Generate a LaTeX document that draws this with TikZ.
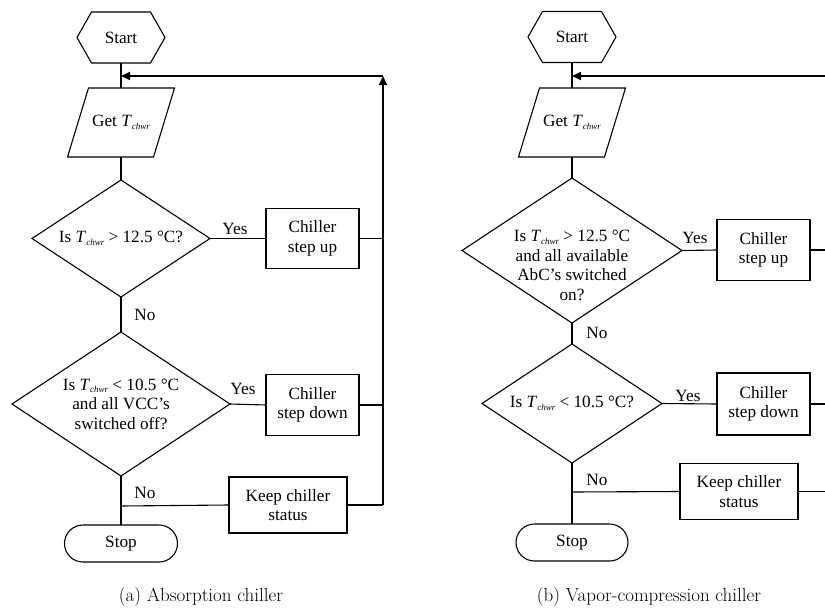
\documentclass[tikz,border=0pt]{standalone}
\usepackage{fontspec}
\setmainfont{Liberation Serif}
\newfontfamily\capfam{Latin Modern Roman}
\usetikzlibrary{arrows.meta}
\newcommand\nf{\fontsize{17.2}{19.5}\selectfont}
\newcommand\Tc{\textit{T}{\fontsize{9}{10}\selectfont\raisebox{-2.5pt}{\textit{chwr}}}}
\newcommand\hexa[1]{\draw[ln] (#1.west) -- ([xshift=14.5pt]#1.north west) -- ([xshift=-14.5pt]#1.north east) -- (#1.east) -- ([xshift=-14.5pt]#1.south east) -- ([xshift=14.5pt]#1.south west) -- cycle;}
\newcommand\para[1]{\draw[ln] ([xshift=21pt]#1.north west) -- (#1.north east) -- ([xshift=-21pt]#1.south east) -- (#1.south west) -- cycle;}
\newcommand\diam[1]{\draw[ln] (#1.north) -- (#1.east) -- (#1.south) -- (#1.west) -- cycle;}
\begin{document}
\begin{tikzpicture}[x=1pt,y=-1pt,
  ln/.style={line width=1.1pt, black},
  fb/.style={line width=1.7pt, black},
  arr/.style={-{Triangle[length=9pt,width=8pt]}},
  txt/.style={font=\nf, align=center, inner sep=0pt, outer sep=0pt},
  term/.style={txt, minimum width=88pt, minimum height=51pt},
  io/.style={txt, minimum width=107pt, minimum height=69pt},
  dec/.style={txt},
  boxnode/.style={txt, draw, line width=1.1pt, minimum width=93pt, minimum height=61pt},
  keepnode/.style={boxnode, minimum width=118pt, minimum height=56pt},
  stopnode/.style={txt, draw, line width=1.1pt, rounded corners=18.5pt, minimum width=113pt, minimum height=37pt},
  lbl/.style={font=\nf, inner sep=0pt},
  captext/.style={font=\capfam\fontsize{19}{22}\selectfont, inner sep=0pt}
]
\useasboundingbox (0,0) rectangle (825,608);

% ---------------- (a) ----------------
\node[term] (s1) at (121,37.5) {Start};
\hexa{s1}
\node[io] (g1) at (121,122.5) {Get \Tc};
\para{g1}
\node[dec, minimum width=178pt, minimum height=117pt] (d11) at (121,238.5) {Is \Tc{} {>} 12.5 °C?};
\diam{d11}
\node[dec, minimum width=218pt, minimum height=144pt] (d12) at (121,404) {Is \Tc{} {<} 10.5 °C\\and all VCC’s\\switched off?};
\diam{d12}
\node[stopnode] (st1) at (121,543.5) {Stop};
\node[boxnode, minimum height=60pt] (u1) at (312.5,238.5) {Chiller\\step up};
\node[boxnode] (dn1) at (312.5,405) {Chiller\\step down};
\node[keepnode] (k1) at (288,505) {Keep chiller\\status};

\coordinate (jA1) at (121,76);
\coordinate (jB1) at (121,506);
\coordinate (fT1) at (383,76);

\draw[ln] (s1.south) -- (g1.north);
\draw[ln] (g1.south) -- (d11.north);
\draw[ln] (d11.south) -- (d12.north);
\draw[ln] (d12.south) -- (st1.north);
\draw[ln] (d11.east) -- (u1.west);
\draw[ln] (d12.east) -- (dn1.west);
\draw[ln] (jB1) -- (k1.west);
\draw[ln] (u1.east) -- (u1.east -| fT1);
\draw[ln] (dn1.east) -- (dn1.east -| fT1);
\draw[ln] (k1.east) -- (k1.east -| fT1);
\draw[fb,arr] (k1.east -| fT1) -- (fT1);
\draw[fb,arr] (fT1) -- (jA1);

\node[lbl] (y11) at (235,229) {Yes};
\node[lbl] (y12) at (243,389) {Yes};
\node[lbl] (n11) at (145,315) {No};
\node[lbl] (n12) at (145,493) {No};

\node[captext] (ca) at (201,597) {(a) Absorption chiller};

% ---------------- (b) ----------------
\node[term] (s2) at (572,37) {Start};
\hexa{s2}
\node[io] (g2) at (572,122.5) {Get \Tc};
\para{g2}
\node[dec, minimum width=220pt, minimum height=145pt,
  label={[txt, yshift=-15pt]center:{Is \Tc{} {>} 12.5 °C\\and all available\\AbC’s switched\\on?}}] (d21) at (572,250.5) {};
\diam{d21}
\node[dec, minimum width=180pt, minimum height=119pt] (d22) at (572,403.5) {Is \Tc{} {<} 10.5 °C?};
\diam{d22}
\node[stopnode, minimum width=112pt] (st2) at (572,542.5) {Stop};
\node[boxnode] (u2) at (763.5,250) {Chiller\\step up};
\node[boxnode, minimum height=62pt] (dn2) at (763.5,404) {Chiller\\step down};
\node[keepnode] (k2) at (739,491.5) {Keep chiller\\status};

\coordinate (jA2) at (572,76);
\coordinate (jB2) at (572,492);
\coordinate (eA2) at (825,76);

\draw[ln] (s2.south) -- (g2.north);
\draw[ln] (g2.south) -- (d21.north);
\draw[ln] (d21.south) -- (d22.north);
\draw[ln] (d22.south) -- (st2.north);
\draw[ln] (d21.east) -- (u2.west);
\draw[ln] (d22.east) -- (dn2.west);
\draw[ln] (jB2) -- (k2.west);
\draw[ln] (u2.east) -- (u2.east -| eA2);
\draw[ln] (dn2.east) -- (dn2.east -| eA2);
\draw[ln] (k2.east) -- (k2.east -| eA2);
\draw[fb,arr] (eA2) -- (jA2);

\node[lbl] (y21) at (695,238) {Yes};
\node[lbl] (y22) at (688,396) {Yes};
\node[lbl] (n21) at (597,333) {No};
\node[lbl] (n22) at (597,480) {No};

\node[captext] (cb) at (649,597) {(b) Vapor-compression chiller};
\end{tikzpicture}
\end{document}
